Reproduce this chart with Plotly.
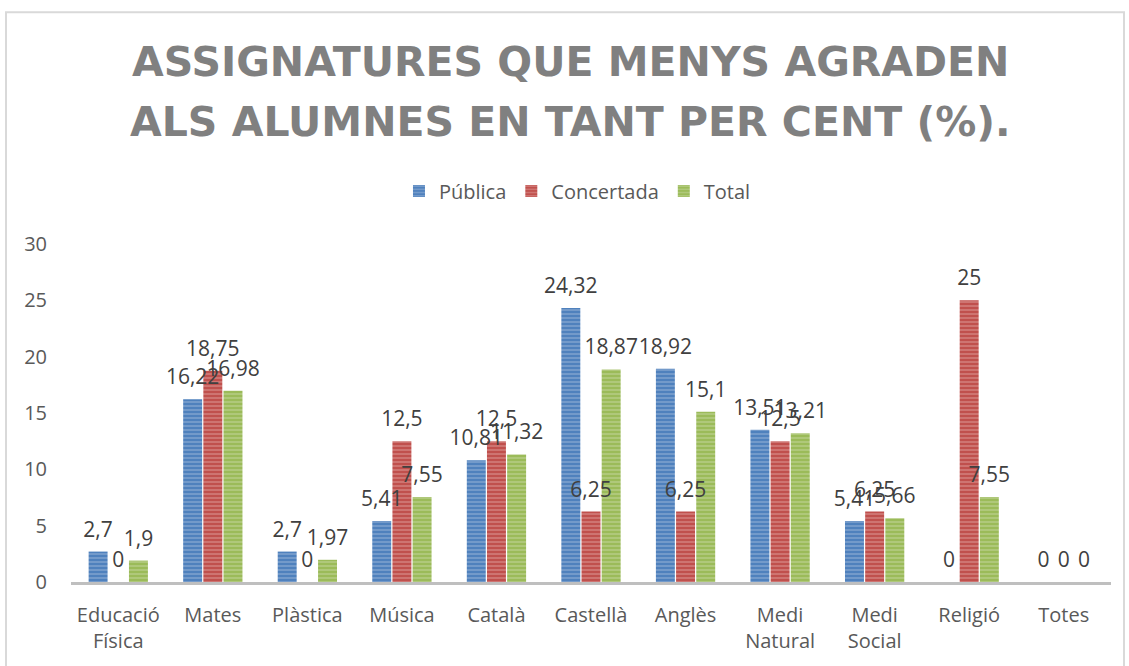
import plotly.graph_objects as go

# ---------------------------------------------------------------------------
# Data
# ---------------------------------------------------------------------------
categories = ["Educació<br>Física", "Mates", "Plàstica", "Música", "Català",
              "Castellà", "Anglès", "Medi<br>Natural", "Medi<br>Social",
              "Religió", "Totes"]
publica = [2.7, 16.22, 2.7, 5.41, 10.81, 24.32, 18.92, 13.51, 5.41, 0, 0]
concertada = [0, 18.75, 0, 12.5, 12.5, 6.25, 6.25, 12.5, 6.25, 25, 0]
total = [1.9, 16.98, 1.97, 7.55, 11.32, 18.87, 15.1, 13.21, 5.66, 7.55, 0]

title_lines = ["ASSIGNATURES QUE MENYS AGRADEN",
               "ALS ALUMNES EN TANT PER CENT (%)."]

COLORS = {
    "publica": ("#4F81BD", "#A9C1E0"),
    "concertada": ("#C0504D", "#E3A9A7"),
    "total": ("#9BBB59", "#CDDDAD"),
    "title": "#808080",
    "label": "#404040",
    "tick": "#595959",
    "axis": "#BFBFBF",
}

SERIES = [("Pública", publica, "publica"),
          ("Concertada", concertada, "concertada"),
          ("Total", total, "total")]


def fmt(v):
    # comma decimal separator, as in the original
    return f"{v:g}".replace(".", ",")


fig = go.Figure()

# bars
for name, vals, key in SERIES:
    base, light = COLORS[key]
    fig.add_trace(go.Bar(
        x=categories, y=vals, name=name,
        marker=dict(color=base, line=dict(width=0),
                    pattern=dict(shape="-", fgcolor=light, bgcolor=base,
                                 size=4, solidity=0.4)),
        hoverinfo="skip",
    ))

# data labels as grouped text-only scatters so they sit above every bar
for name, vals, key in SERIES:
    fig.add_trace(go.Scatter(
        x=categories, y=vals, mode="markers+text", showlegend=False,
        text=[fmt(v) for v in vals], textposition="top center",
        textfont=dict(size=21, color=COLORS["label"]),
        marker=dict(size=14, opacity=0),
        cliponaxis=False, hoverinfo="skip",
    ))

# two-line title drawn as annotations so the line spacing can match
title_annos = [
    dict(text=line, xref="paper", yref="paper", x=0.48, y=yy,
         xanchor="center", yanchor="middle", showarrow=False,
         font=dict(family="DejaVu Sans", size=41, color=COLORS["title"], weight="bold"))
    for line, yy in zip(title_lines, [1.538, 1.361])
]

fig.update_layout(
    width=1129, height=666,
    paper_bgcolor="white", plot_bgcolor="white",
    font=dict(family="Open Sans, sans-serif", color=COLORS["tick"]),
    margin=dict(l=71, r=18, t=244, b=84),
    barmode="group", bargap=0.36, bargroupgap=0.06,
    scattermode="group", scattergap=0.36,
    annotations=title_annos,
    legend=dict(orientation="h", x=0.487, xanchor="center", y=1.157, yanchor="middle",
                font=dict(size=20, color=COLORS["tick"]), itemwidth=30,
                bgcolor="rgba(0,0,0,0)"),
    xaxis=dict(showgrid=False, showline=True, linecolor=COLORS["axis"], linewidth=3,
               tickfont=dict(size=20, color=COLORS["tick"]), ticks="",
               ticklabelstandoff=13),
    yaxis=dict(range=[0, 30], dtick=5, showgrid=False, zeroline=False, showline=False,
               tickfont=dict(size=20, color=COLORS["tick"]), ticklabelstandoff=23),
    shapes=[dict(type="rect", xref="paper", yref="paper",
                 x0=-0.0625, x1=1.0125, y0=-0.3, y1=1.686,
                 line=dict(color="#D9D9D9", width=2), fillcolor="rgba(0,0,0,0)",
                 layer="below")],
)

fig.write_html("out.html", config={"displayModeBar": False},
               post_script="document.body.style.margin='0';")
